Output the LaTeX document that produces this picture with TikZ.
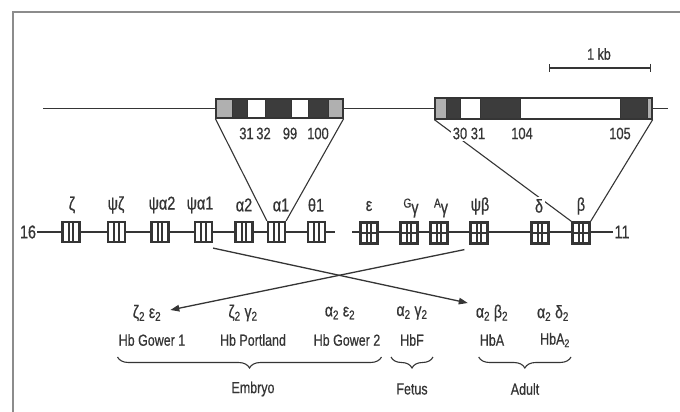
\documentclass[tikz,border=0pt]{standalone}
\usepackage{fontspec}
\setmainfont{Liberation Sans}[FakeStretch=0.78,FakeBold=0.6]
\usetikzlibrary{arrows.meta,calc,decorations.pathreplacing}
\definecolor{ink}{HTML}{353535}
\definecolor{darkseg}{HTML}{3C3C3C}
\definecolor{lightseg}{HTML}{B0B0B0}
\definecolor{framec}{HTML}{8C8C8C}
\begin{document}
\begin{tikzpicture}[x=1pt,y=-1pt,
  lbl/.style={text=ink, font=\fontsize{16}{18}\selectfont, inner sep=1pt},
  flbl/.style={text=ink, font=\fontsize{18}{20}\selectfont, inner sep=1pt},
  glbl/.style={text=ink, font=\fontsize{18.5}{20}\selectfont, inner sep=1pt},
  nlbl/.style={text=ink, font=\fontsize{16.5}{18}\selectfont, inner sep=1pt},
  gbox/.style={draw=ink, fill=white, line width=2.2pt, minimum width=17pt, minimum height=20pt, inner sep=0pt,
    path picture={\foreach \f in {0.37,0.63}{\draw[ink,line width=1.8pt]
      ($(path picture bounding box.south west)!\f!(path picture bounding box.south east)$) --
      ($(path picture bounding box.north west)!\f!(path picture bounding box.north east)$);}}},
  bbox/.style={draw=ink, fill=white, line width=2.2pt, minimum width=17pt, minimum height=21pt, inner sep=0pt,
    path picture={\foreach \f in {0.37,0.63}{\draw[ink,line width=1.8pt]
      ($(path picture bounding box.south west)!\f!(path picture bounding box.south east)$) --
      ($(path picture bounding box.north west)!\f!(path picture bounding box.north east)$);}
      \draw[ink,line width=1.6pt] (path picture bounding box.west) -- (path picture bounding box.east);}},
  upbox/.style={draw=ink, line width=1.3pt, inner sep=0pt},
  uline/.style={draw=ink, line width=1.4pt},
  chrom/.style={draw=ink, line width=2pt},
  thin/.style={draw=ink, line width=1.1pt},
  arr/.style={draw=ink, line width=1.3pt, -{Triangle[length=9pt,width=6.5pt]}},
  brc/.style={draw=ink, line width=1.1pt, decorate, decoration={brace,mirror,amplitude=11pt}},
]
\useasboundingbox (0,0) rectangle (680,412);
\fill[white] (0,0) rectangle (680,412);
% frame
\draw[framec, line width=1.6pt] (13,412) -- (13,12) -- (680,12);

% scale bar
\coordinate (s1) at (549,68);
\coordinate (s2) at (651,68);
\draw[ink, line width=1.3pt, {Bar[width=8pt]}-{Bar[width=8pt]}] (s1) -- (s2);
\node[lbl] (kb) at (599,54) {1 kb};

% upper alpha gene
\fill[lightseg] (216,99) rectangle (232,118);
\fill[darkseg] (232,99) rectangle (247,118);
\fill[darkseg] (265,99) rectangle (291,118);
\fill[darkseg] (308,99) rectangle (328,118);
\fill[lightseg] (328,99) rectangle (343,118);
\node[upbox, minimum width=127pt, minimum height=19pt] (ag) at (279.5,108.5) {};
\draw[ink, line width=0.8pt] (247,99) -- (247,118) (265,99) -- (265,118) (291,99) -- (291,118) (308,99) -- (308,118) (232,99) -- (232,118) (328,99) -- (328,118);

% upper beta gene
\fill[lightseg] (435,98) rectangle (446,119);
\fill[darkseg] (446,98) rectangle (460,119);
\fill[darkseg] (480,98) rectangle (520,119);
\fill[darkseg] (620,98) rectangle (647,119);
\fill[lightseg] (647,98) rectangle (652,119);
\node[upbox, minimum width=217pt, minimum height=21pt] (bg) at (543.5,108.5) {};
\draw[ink, line width=0.8pt] (446,98) -- (446,119) (460,98) -- (460,119) (480,98) -- (480,119) (520,98) -- (520,119) (620,98) -- (620,119) (647,98) -- (647,119);

% upper line
\coordinate (uL) at (43,108.5);
\coordinate (uR) at (668,108.5);
\draw[uline] (uL) -- (ag.west);
\draw[uline] (ag.east) -- (bg.west);
\draw[uline] (bg.east) -- (uR);

% exon boundary labels
\node[nlbl] (a31) at (246.5,133.5) {31};
\node[nlbl] (a32) at (263.5,133.5) {32};
\node[nlbl] (a99) at (290,133.5) {99};
\node[nlbl] (a100) at (318,133.5) {100};
\node[nlbl] (b104) at (522,133.5) {104};
\node[nlbl] (b105) at (620,133.5) {105};

% chromosome 16
\node[glbl] (n16) at (28,232) {16};
\coordinate (aend) at (335,232);
\draw[chrom] (n16.east) -- (aend);
\node[gbox] (z)   at (71,232) {};
\node[gbox] (pz)  at (116.5,232) {};
\node[gbox] (pa2) at (160,232) {};
\node[gbox] (pa1) at (203.5,232) {};
\node[gbox] (a2)  at (244,232) {};
\node[gbox] (a1)  at (276.5,232) {};
\node[gbox] (t1)  at (316.5,232) {};

% chromosome 11
\node[glbl] (n11) at (622,232) {11};
\coordinate (bstart) at (352,232);
\draw[chrom] (bstart) -- (n11.west);
\node[bbox] (e)  at (369,233) {};
\node[bbox] (gg) at (409,233) {};
\node[bbox] (ag2) at (439,233) {};
\node[bbox] (pb) at (479,233) {};
\node[bbox] (d)  at (540,233) {};
\node[bbox] (b)  at (581,233) {};

% gene labels
\node[glbl] at (72,205) {ζ};
\node[glbl] at (116,205) {ψζ};
\node[glbl] at (162,205) {ψα2};
\node[glbl] at (200,205) {ψα1};
\node[glbl] at (244,205) {α2};
\node[glbl] at (281,205) {α1};
\node[glbl] at (316,205) {θ1};
\node[glbl] at (369,206) {ε};
\node[glbl] at (411,208) {\raisebox{6pt}{\fontsize{13}{14}\selectfont G}γ};
\node[glbl] at (441,208) {\raisebox{6pt}{\fontsize{13}{14}\selectfont A}γ};
\node[glbl] at (480,206) {ψβ};
\node[glbl] at (581,206) {β};

% expansion lines
\draw[thin] (ag.south west) -- (a1.north west);
\draw[thin] (ag.south east) -- (a1.north east);
\draw[thin] (bg.south west) -- (b.north west);
\draw[thin] (bg.south east) -- (b.north east);
\node[nlbl, fill=white, inner sep=2pt] (b30) at (460,133.5) {30};
\node[nlbl, fill=white, inner sep=1pt] (b31) at (478,133.5) {31};
\node[glbl, fill=white, inner sep=2pt] (dl) at (539,206) {δ};

% hemoglobin formulas
\node[flbl] (f1) at (147,313) {ζ\textsubscript{2} ε\textsubscript{2}};
\node[flbl] (f2) at (243,313) {ζ\textsubscript{2} γ\textsubscript{2}};
\node[flbl] (f3) at (340,313) {α\textsubscript{2} ε\textsubscript{2}};
\node[flbl] (f4) at (412,313) {α\textsubscript{2} γ\textsubscript{2}};
\node[flbl] (f5) at (492,313) {α\textsubscript{2} β\textsubscript{2}};
\node[flbl] (f6) at (553,313) {α\textsubscript{2} δ\textsubscript{2}};
\node[lbl] (h1) at (152,340) {Hb Gower 1};
\node[lbl] (h2) at (253,340) {Hb Portland};
\node[lbl] (h3) at (347,340) {Hb Gower 2};
\node[lbl] (h4) at (412,340) {HbF};
\node[lbl] (h5) at (492,340) {HbA};
\node[lbl] (h6) at (555,340) {HbA\textsubscript{2}};

% crossing arrows
\draw[arr] ($(pa1.south east)+(0,5)$) -- ($(f5.west)+(-7,-10)$);
\draw[arr] ($(pb.south west)+(-5,5)$) -- ($(f1.east)+(8,-3)$);

% braces
\coordinate (brY) at (0,357);
\draw[brc] (h1.west |- brY) -- (h3.east |- brY);
\draw[brc] ($(h4.west |- brY)+(-8,0)$) -- ($(h4.east |- brY)+(8,0)$);
\draw[brc] (h5.west |- brY) -- (h6.east |- brY);
\node[lbl] (emb) at (253,389) {Embryo};
\node[lbl] (fet) at (412,389) {Fetus};
\node[lbl] (adu) at (525,389) {Adult};
\end{tikzpicture}
\end{document}
